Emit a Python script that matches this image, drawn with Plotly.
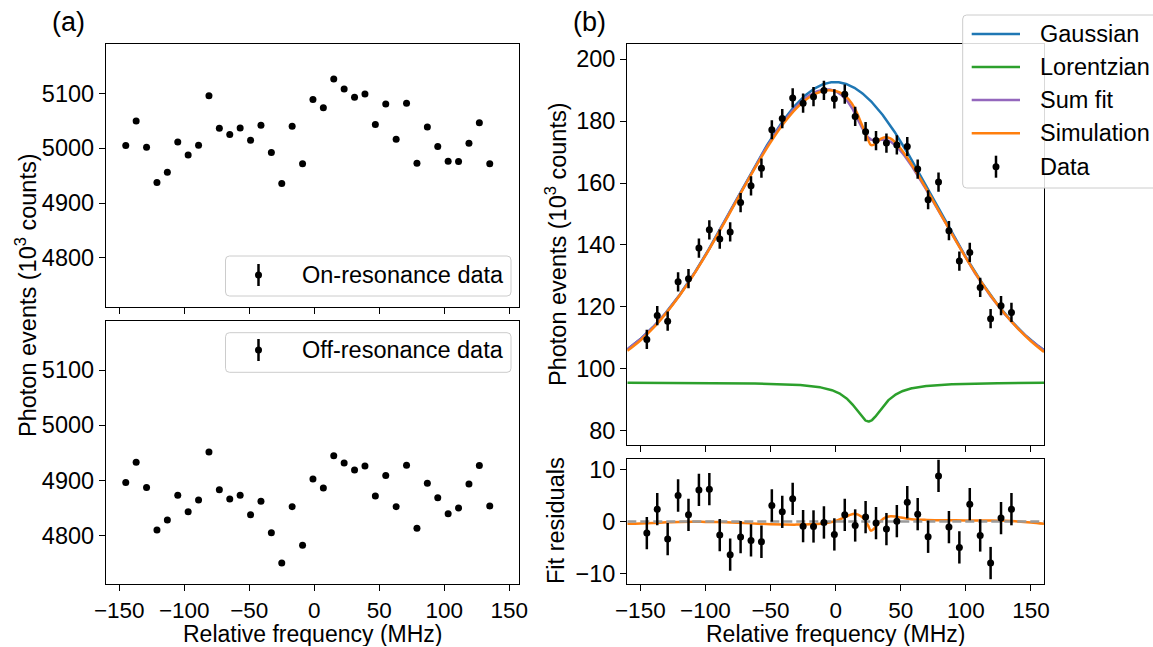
import numpy as np
import plotly.graph_objects as go

# ---------------- data ----------------
freq = [-145, -137, -129, -121, -113, -105, -97, -89, -81, -73, -65, -57,
        -49, -41, -33, -25, -17, -9, -1, 7, 15, 23, 31, 39,
        47, 55, 63, 71, 79, 87, 95, 103, 111, 119, 127, 135]

on_res = [5004.8, 5049.6, 5001.8, 4937.5, 4956.3, 5011.5, 4987.8, 5005.4, 5095.7,
          5036.3, 5024.8, 5036.9, 5014.5, 5041.8, 4992.1, 4935.7, 5039.9, 4971.5,
          5089.0, 5073.9, 5126.0, 5107.8, 5092.7, 5098.7, 5043.0, 5080.5, 5016.3,
          5081.8, 4972.7, 5038.7, 5003.0, 4976.3, 4975.7, 5009.0, 5046.6, 4971.5]
on_err = [2.2] * len(freq)

off_res = [4895.8, 4932.7, 4886.7, 4809.7, 4827.9, 4872.7, 4843.0, 4864.2, 4951.5,
           4883.0, 4866.1, 4872.7, 4837.6, 4861.8, 4804.8, 4749.7, 4852.1, 4781.8,
           4902.4, 4886.1, 4944.8, 4931.5, 4918.8, 4926.1, 4871.5, 4908.5, 4852.1,
           4927.3, 4812.7, 4894.5, 4868.5, 4839.4, 4849.7, 4893.3, 4926.7, 4853.3]
off_err = [2.2] * len(freq)

diff_counts = [109.5, 117.2, 115.4, 128.1, 129.1, 139.0, 144.9, 141.9, 144.2,
               153.7, 159.1, 164.8, 177.2, 180.8, 187.5, 185.8, 187.9, 189.9,
               187.2, 188.7, 181.5, 176.6, 173.7, 172.9, 172.3, 171.8, 164.5,
               154.6, 160.3, 144.6, 134.8, 137.6, 126.3, 116.2, 120.4, 118.2]
diff_err = [3.1] * len(freq)

residuals = [-2.23, 2.37, -3.38, 4.99, 1.28, 6.07, 6.20, -2.61, -6.38, -2.99, -3.63, -3.89,
             3.07, 1.86, 4.35, -0.89, -0.95, -0.19, -2.48, 1.28, -0.76, 0.84, -0.31, -1.46,
             0.07, 3.71, 1.41, -2.93, 8.75, -1.08, -4.97, 3.33, -2.68, -7.98, 0.65, 2.37]
res_err = [3.1] * len(freq)

# fitted line-shape parameters
gauss_center, gauss_amp, gauss_sigma, baseline = -0.5, 97.0, 76.0, 95.6
lor_center, lor_depth, lor_gamma = 25.2, 12.6, 14.0

# simulated spectrum, relative to the sum fit
sim_x = [-160, -150, -140, -130, -120, -110, -100, -90, -80, -70, -60, -50, -40, -30,
         -20, -10, -5, 0, 5, 10, 15, 20, 23, 25, 27, 29, 32, 35, 38, 42, 46, 50, 55,
         60, 70, 80, 90, 100, 110, 120, 130, 140, 150, 160]
sim_dev = [-0.45, -0.4, -0.3, -0.15, -0.08, -0.05, -0.08, -0.12, -0.2, -0.3, -0.42, -0.52,
           -0.58, -0.6, -0.55, -0.4, -0.2, 0.1, 0.6, 1.15, 1.5, 0.9, 0.1, -0.8, -1.75,
           -1.5, -0.6, 0.2, 0.75, 1.0, 0.95, 0.75, 0.55, 0.4, 0.3, 0.25, 0.22, 0.2, 0.2,
           0.18, 0.12, 0.0, -0.2, -0.45]

freq_ticks = [-150, -100, -50, 0, 50, 100, 150]
counts_ticks = [4800, 4900, 5000, 5100]
main_ticks = [80, 100, 120, 140, 160, 180, 200]
res_ticks = [-10, 0, 10]

# ---------------- models ----------------
def gaussian(x):
    return baseline + gauss_amp * np.exp(-(x - gauss_center) ** 2 / (2 * gauss_sigma ** 2))


def lorentzian(x):
    return baseline - lor_depth * lor_gamma ** 2 / ((x - lor_center) ** 2 + lor_gamma ** 2)


def sum_fit(x):
    return gaussian(x) + lorentzian(x) - baseline


fx = np.linspace(-160, 160, 801)
sim_xa = np.array(sim_x, dtype=float)
sim_main = sum_fit(sim_xa) + np.array(sim_dev)

# ---------------- styling ----------------
W, H = 1153, 647
FONT = "Liberation Sans, Arial, Helvetica, sans-serif"
FS = 23.5
FS_X = 22.5
BLUE, GREEN, PURPLE, ORANGE = "#1f77b4", "#2ca02c", "#9467bd", "#ff7f0e"
LW = 2.5


def px(p):
    return p / W


def py(p):
    return 1 - p / H


def axis_style(size=FS, **kw):
    d = dict(showline=True, mirror=True, linecolor="black", linewidth=1.3,
             ticks="outside", ticklen=6, tickwidth=1.3, tickcolor="black",
             showgrid=False, zeroline=False, automargin=False,
             tickfont=dict(family=FONT, size=size, color="black"))
    d.update(kw)
    return d


fig = go.Figure()

data_marker = dict(color="black", size=7)


def err(vals):
    return dict(type="data", array=vals, visible=True, color="black", thickness=2.5, width=0)


# panel (a): on / off resonance
fig.add_trace(go.Scatter(x=freq, y=on_res, error_y=err(on_err), mode="markers",
                         marker=data_marker, xaxis="x", yaxis="y", showlegend=False))
fig.add_trace(go.Scatter(x=freq, y=off_res, error_y=err(off_err), mode="markers",
                         marker=data_marker, xaxis="x2", yaxis="y2", showlegend=False))

# panel (b): fits, simulation, data
fig.add_trace(go.Scatter(x=fx, y=gaussian(fx), mode="lines", line=dict(color=BLUE, width=LW),
                         xaxis="x3", yaxis="y3", showlegend=False))
fig.add_trace(go.Scatter(x=fx, y=lorentzian(fx), mode="lines", line=dict(color=GREEN, width=LW),
                         xaxis="x3", yaxis="y3", showlegend=False))
fig.add_trace(go.Scatter(x=fx, y=sum_fit(fx), mode="lines", line=dict(color=PURPLE, width=LW),
                         xaxis="x3", yaxis="y3", showlegend=False))
fig.add_trace(go.Scatter(x=sim_x, y=sim_main, mode="lines",
                         line=dict(color=ORANGE, width=LW, shape="spline"),
                         xaxis="x3", yaxis="y3", showlegend=False))
fig.add_trace(go.Scatter(x=freq, y=diff_counts, error_y=err(diff_err), mode="markers",
                         marker=data_marker, xaxis="x3", yaxis="y3", showlegend=False))

# residuals
fig.add_trace(go.Scatter(x=sim_x, y=sim_dev, mode="lines",
                         line=dict(color=ORANGE, width=LW, shape="spline"),
                         xaxis="x4", yaxis="y4", showlegend=False))
fig.add_trace(go.Scatter(x=[fx[0], fx[-1]], y=[0, 0], mode="lines",
                         line=dict(color="#9a9a9a", width=LW, dash="9px,4px"),
                         xaxis="x4", yaxis="y4", showlegend=False))
fig.add_trace(go.Scatter(x=freq, y=residuals, error_y=err(res_err), mode="markers",
                         marker=data_marker, xaxis="x4", yaxis="y4", showlegend=False))

xa_dom = [px(106), px(519)]
xb_dom = [px(627.3), px(1044)]

fig.update_layout(
    template="none",
    width=W, height=H, margin=dict(l=0, r=0, t=0, b=0, autoexpand=False),
    paper_bgcolor="white", plot_bgcolor="white",
    font=dict(family=FONT, size=FS, color="black"),
    xaxis=axis_style(domain=xa_dom, range=[-160.2, 157.5], tickvals=freq_ticks,
                     showticklabels=False, anchor="y"),
    yaxis=axis_style(domain=[py(306.7), py(44)], range=[4711, 5190], tickvals=counts_ticks,
                     anchor="x"),
    xaxis2=axis_style(size=FS_X, domain=xa_dom, range=[-160.2, 157.5], tickvals=freq_ticks,
                      anchor="y2"),
    yaxis2=axis_style(domain=[py(584.3), py(320.7)], range=[4711, 5190], tickvals=counts_ticks,
                      anchor="x2"),
    xaxis3=axis_style(domain=xb_dom, range=[-160, 160], tickvals=freq_ticks,
                      showticklabels=False, anchor="y3"),
    yaxis3=axis_style(domain=[py(445.3), py(44)], range=[75.3, 204.9], tickvals=main_ticks,
                      anchor="x3"),
    xaxis4=axis_style(size=FS_X, domain=xb_dom, range=[-160, 160], tickvals=freq_ticks,
                      anchor="y4"),
    yaxis4=axis_style(domain=[py(584), py(459)], range=[-12, 12], tickvals=res_ticks,
                      anchor="x4"),
)

annotations = []
shapes = []


def text(x, y, s, size=FS, angle=0, xanchor="center", yanchor="middle", **kw):
    annotations.append(dict(x=px(x), y=py(y), xref="paper", yref="paper", text=s,
                            showarrow=False, textangle=angle, xanchor=xanchor, yanchor=yanchor,
                            font=dict(family=FONT, size=size, color="black"), **kw))


text(68, 22, "(a)", size=27)
text(589, 22, "(b)", size=27)
text(26, 295, "Photon events (10<sup>3</sup> counts)", angle=-90)
text(556, 244, "Photon events (10<sup>3</sup> counts)", angle=-90)
text(556, 521, "Fit residuals", angle=-90)
# x-axis titles sit in a fixed-height box at the bottom edge
text(312.5, 647, "Relative frequency (MHz)", size=FS_X + 0.5, yanchor="bottom", height=24,
     borderpad=0, valign="middle")
text(835.5, 647, "Relative frequency (MHz)", size=FS_X + 0.5, yanchor="bottom", height=24,
     borderpad=0, valign="middle")


def rounded_box(x0, y0, x1, y1, r=4):
    X0, X1 = px(x0), px(x1)
    Y0, Y1 = py(y0), py(y1)
    rx, ry = r / W, r / H
    path = (f"M{X0 + rx},{Y0} L{X1 - rx},{Y0} Q{X1},{Y0} {X1},{Y0 - ry} "
            f"L{X1},{Y1 + ry} Q{X1},{Y1} {X1 - rx},{Y1} L{X0 + rx},{Y1} "
            f"Q{X0},{Y1} {X0},{Y1 + ry} L{X0},{Y0 - ry} Q{X0},{Y0} {X0 + rx},{Y0} Z")
    shapes.append(dict(type="path", path=path, xref="paper", yref="paper", layer="above",
                       fillcolor="rgba(255,255,255,0.85)", line=dict(color="#cccccc", width=1)))


def data_handle(cx, cy):
    shapes.append(dict(type="line", xref="paper", yref="paper", layer="above",
                       x0=px(cx), x1=px(cx), y0=py(cy - 11), y1=py(cy + 11),
                       line=dict(color="black", width=2.5)))
    shapes.append(dict(type="circle", xref="paper", yref="paper", layer="above",
                       x0=px(cx - 3.5), x1=px(cx + 3.5), y0=py(cy - 3.5), y1=py(cy + 3.5),
                       fillcolor="black", line=dict(color="black", width=0)))


def line_handle(cy, color):
    shapes.append(dict(type="line", xref="paper", yref="paper", layer="above",
                       x0=px(971.7), x1=px(1020), y0=py(cy), y1=py(cy),
                       line=dict(color=color, width=LW)))


# legends of panel (a)
rounded_box(225.5, 256, 511, 296)
data_handle(258.5, 275)
text(300, 275, "On-resonance data", xanchor="left")

rounded_box(225.5, 332.7, 511, 372.3)
data_handle(258.5, 350)
text(300, 350, "Off-resonance data", xanchor="left")

# legend of panel (b)
rounded_box(962.7, 15, 1165, 188)
rows = [("Gaussian", BLUE, 34), ("Lorentzian", GREEN, 67), ("Sum fit", PURPLE, 100),
        ("Simulation", ORANGE, 133.3)]
for label, color, cy in rows:
    line_handle(cy, color)
    text(1038.3, cy, label, xanchor="left")
data_handle(996, 166.7)
text(1038.3, 166.7, "Data", xanchor="left")

fig.update_layout(annotations=annotations, shapes=shapes)
fig.write_html("out.html")
